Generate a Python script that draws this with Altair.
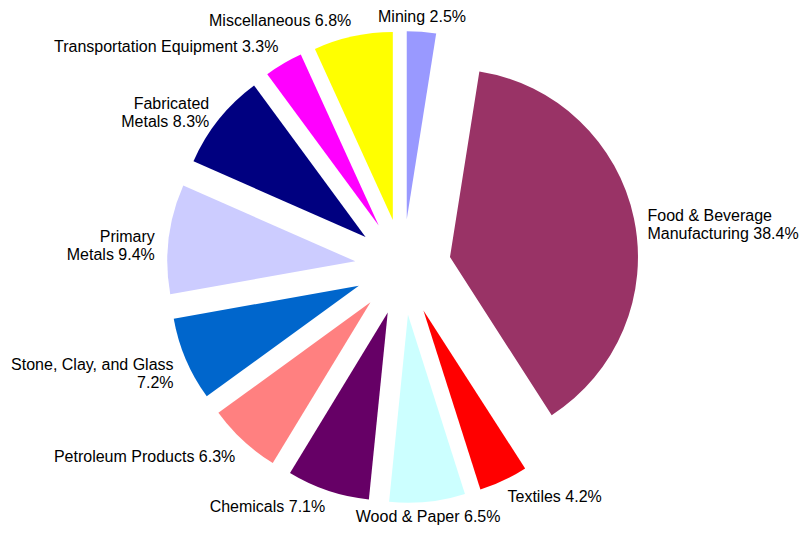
import altair as alt
import pandas as pd

# ---- data ----
categories = ["Mining", "Food & Beverage Manufacturing", "Textiles", "Wood & Paper",
              "Chemicals", "Petroleum Products", "Stone, Clay, and Glass",
              "Primary Metals", "Fabricated Metals", "Transportation Equipment",
              "Miscellaneous"]
shares = [2.5, 38.4, 4.2, 6.5, 7.1, 6.3, 7.2, 9.4, 8.3, 3.3, 6.8]
labels = ["Mining  2.5%", "Food & Beverage\nManufacturing 38.4%", "Textiles 4.2%",
          "Wood & Paper  6.5%", "Chemicals 7.1%", "Petroleum Products 6.3%",
          "Stone, Clay, and Glass\n7.2%", "Primary\nMetals 9.4%",
          "Fabricated\nMetals 8.3%", "Transportation Equipment  3.3%",
          "Miscellaneous 6.8%"]
colors = ["#9999FF", "#993366", "#FF0000", "#CCFFFF", "#660066", "#FF8080",
          "#0066CC", "#CCCCFF", "#000080", "#FF00FF", "#FFFF00"]

df = pd.DataFrame({"name": categories, "share": shares, "label": labels,
                   "order": list(range(len(categories)))})

# ---- layout constants (units: pie radius = 1) ----
W, H = 795, 518
R_PX = 188
CX_PX, CY_PX = 395, 259
EXPLODE = 48 / R_PX
LABEL_BASE = 242 / R_PX      # label anchor distance at top/bottom
LABEL_SIDE = 8 / R_PX        # extra distance for side labels

xdom = [-CX_PX / R_PX, (W - CX_PX) / R_PX]
ydom = [-(H - CY_PX) / R_PX, CY_PX / R_PX]

xs = alt.Scale(domain=xdom, nice=False, zero=False)
ys = alt.Scale(domain=ydom, nice=False, zero=False)

base = alt.Chart(df).transform_window(
    end="sum(share)", sort=[alt.SortField("order")], frame=[None, 0]
).transform_calculate(
    start="datum.end - datum.share",
    mid="(datum.end - datum.share / 2) / 100 * 2 * PI",
).transform_calculate(
    sx="sin(datum.mid)",
    cy_="cos(datum.mid)",
).transform_calculate(
    ex=f"{EXPLODE} * datum.sx",
    ey=f"{EXPLODE} * datum.cy_",
    lr=f"{LABEL_BASE} + {LABEL_SIDE} * abs(datum.sx)",
).transform_calculate(
    lx="datum.lr * datum.sx",
    ly="datum.lr * datum.cy_",
)

arcs = base.mark_arc(radius=R_PX, stroke=None).encode(
    x=alt.X("ex:Q", scale=xs, axis=None),
    y=alt.Y("ey:Q", scale=ys, axis=None),
    theta=alt.Theta("start:Q", scale=alt.Scale(domain=[0, 100]), stack=None),
    theta2=alt.Theta2("end:Q"),
    color=alt.Color("name:N", scale=alt.Scale(domain=categories, range=colors), legend=None),
)

text = base.mark_text(
    font="Liberation Sans", fontSize=16, color="black", lineBreak="\n", lineHeight=18,
    align=alt.ExprRef("datum.sx > 0.15 ? 'left' : (datum.sx < -0.15 ? 'right' : 'center')"),
    baseline=alt.ExprRef("datum.cy_ > 0.5 ? 'bottom' : (datum.cy_ < -0.5 ? 'top' : 'middle')"),
).encode(
    x=alt.X("lx:Q", scale=xs, axis=None),
    y=alt.Y("ly:Q", scale=ys, axis=None),
    text="label:N",
)

chart = alt.layer(arcs, text).properties(
    width=W, height=H, padding=0, autosize=alt.AutoSizeParams(type="none")
).configure_view(stroke=None)

chart.save("out.html", embed_options={"renderer": "svg", "actions": False})
